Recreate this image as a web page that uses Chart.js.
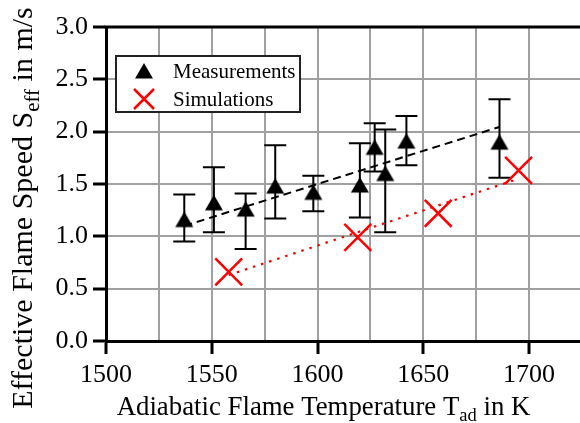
<!DOCTYPE html>
<html>
<head>
<meta charset="utf-8">
<script src="https://cdn.jsdelivr.net/npm/chart.js@4.4.0/dist/chart.umd.min.js"></script>
<style>
  html, body { margin: 0; padding: 0; background: #fff; overflow: hidden; }
  #wrap { width: 580px; height: 423px; overflow: hidden; }
  canvas { display: block; }
</style>
</head>
<body>
<div id="wrap"><canvas id="c" width="584" height="423"></canvas></div>
<script>
// measurements (with error bar ends)
const measT  = [1537, 1551, 1566, 1580, 1598, 1620, 1627, 1632, 1642, 1686];
const measS  = [1.16, 1.32, 1.26, 1.48, 1.42, 1.49, 1.85, 1.60, 1.91, 1.90];
const measHi = [1.40, 1.66, 1.41, 1.87, 1.58, 1.89, 2.08, 2.02, 2.15, 2.31];
const measLo = [0.95, 1.04, 0.88, 1.17, 1.24, 1.18, 1.62, 1.04, 1.68, 1.56];

// simulations
const simT = [1558, 1619, 1657, 1695];
const simS = [0.66, 0.99, 1.22, 1.63];

// fitted lines (end points)
const fitMeasT = [1537, 1686];
const fitMeasS = [1.10, 2.045];
const fitSimT  = [1558, 1695];
const fitSimS  = [0.63, 1.55];

const xTicks = [1500, 1550, 1600, 1650, 1700];
const yTicks = [0.0, 0.5, 1.0, 1.5, 2.0, 2.5, 3.0];

const serif = "'Liberation Serif', 'Times New Roman', serif";
const gridGray = '#a0a0a0';

const pts = (xs, ys) => xs.map((x, i) => ({ x: x, y: ys[i] }));

// triangle marker centred on its bounding box
const tri = document.createElement('canvas');
tri.width = 20; tri.height = 18;
(function () {
  const t = tri.getContext('2d');
  t.fillStyle = '#000';
  t.beginPath();
  t.moveTo(10, 1);
  t.lineTo(19, 16.5);
  t.lineTo(1, 16.5);
  t.closePath();
  t.fill();
})();

function drawCross(ctx, x, y, h, color) {
  ctx.save();
  ctx.strokeStyle = color;
  ctx.lineWidth = 2.5;
  ctx.beginPath();
  ctx.moveTo(x - h, y - h); ctx.lineTo(x + h, y + h);
  ctx.moveTo(x - h, y + h); ctx.lineTo(x + h, y - h);
  ctx.stroke();
  ctx.restore();
}

// text with subscript parts, centred on x
function drawSubText(ctx, parts, x, y, size, subSize) {
  let w = 0;
  parts.forEach(p => {
    ctx.font = (p[1] ? subSize : size) + 'px ' + serif;
    w += ctx.measureText(p[0]).width;
  });
  let cx = x - w / 2;
  ctx.textAlign = 'left';
  ctx.textBaseline = 'alphabetic';
  parts.forEach(p => {
    ctx.font = (p[1] ? subSize : size) + 'px ' + serif;
    ctx.fillText(p[0], cx, y + (p[1] ? size * 0.23 : 0));
    cx += ctx.measureText(p[0]).width;
  });
}

const extras = {
  id: 'extras',
  beforeDatasetsDraw(chart) {
    const ctx = chart.ctx, xs = chart.scales.x, ys = chart.scales.y;
    ctx.save();
    ctx.strokeStyle = '#000';
    ctx.lineWidth = 2;
    measT.forEach((t, i) => {
      const px = xs.getPixelForValue(t);
      const top = ys.getPixelForValue(measHi[i]);
      const bot = ys.getPixelForValue(measLo[i]);
      ctx.beginPath();
      ctx.moveTo(px, top); ctx.lineTo(px, bot);
      ctx.moveTo(px - 11, top); ctx.lineTo(px + 11, top);
      ctx.moveTo(px - 11, bot); ctx.lineTo(px + 11, bot);
      ctx.stroke();
    });
    ctx.restore();
  },
  afterDraw(chart) {
    const ctx = chart.ctx, a = chart.chartArea;
    ctx.save();
    // top frame line
    ctx.strokeStyle = '#000';
    ctx.lineWidth = 3;
    ctx.beginPath();
    ctx.moveTo(a.left - 1.5, a.top); ctx.lineTo(a.right + 2, a.top);
    ctx.stroke();

    // legend
    ctx.fillStyle = '#fff';
    ctx.fillRect(116, 56, 184, 56);
    ctx.lineWidth = 2;
    ctx.strokeStyle = '#222';
    ctx.strokeRect(116, 56, 184, 56);
    ctx.drawImage(tri, 134, 62);
    drawCross(ctx, 144, 99, 10, '#ff0000');
    ctx.fillStyle = '#000';
    ctx.font = '21px ' + serif;
    ctx.textAlign = 'left';
    ctx.textBaseline = 'alphabetic';
    ctx.fillText('Measurements', 173, 78);
    ctx.fillText('Simulations', 173, 106);

    // axis titles
    drawSubText(ctx, [['Adiabatic Flame Temperature T', 0], ['ad', 1], [' in K', 0]], 323.5, 415, 26.8, 18.5);
    ctx.translate(32, 208);
    ctx.rotate(-Math.PI / 2);
    drawSubText(ctx, [['Effective Flame Speed S', 0], ['eff', 1], [' in m/s', 0]], 0, 0, 30, 21);
    ctx.restore();
  }
};

const tickCol = (vals) => c => (c.tick && vals.some(v => Math.abs(v - c.tick.value) < 1e-6)) ? '#000' : 'rgba(0,0,0,0)';

new Chart(document.getElementById('c'), {
  type: 'scatter',
  data: {
    datasets: [
      {
        label: 'Measurements',
        data: pts(measT, measS),
        pointStyle: tri,
        order: 0
      },
      {
        label: 'Simulations',
        data: pts(simT, simS),
        pointStyle: 'crossRot',
        pointRadius: 19,
        pointBorderWidth: 2.5,
        borderColor: '#ff0000',
        backgroundColor: '#ff0000',
        order: 1
      },
      {
        label: 'fit measurements',
        data: pts(fitMeasT, fitMeasS),
        showLine: true,
        pointRadius: 0,
        borderColor: '#000',
        borderWidth: 2,
        borderDash: [8, 5],
        order: 2
      },
      {
        label: 'fit simulations',
        data: pts(fitSimT, fitSimS),
        showLine: true,
        pointRadius: 0,
        borderColor: '#ff0000',
        borderWidth: 2.2,
        borderDash: [2.5, 6],
        order: 3
      }
    ]
  },
  options: {
    responsive: false,
    animation: false,
    events: [],
    layout: { autoPadding: false, padding: { top: 27, right: 2, left: 0, bottom: 0 } },
    plugins: { legend: { display: false }, tooltip: { enabled: false } },
    scales: {
      x: {
        type: 'linear',
        min: 1500, max: 1725,
        afterFit: s => { s.height = 82; s.paddingLeft = 0; s.paddingRight = 0; },
        ticks: {
          stepSize: 25,
          autoSkip: false,
          maxRotation: 0,
          padding: 6,
          color: '#000',
          font: { family: serif, size: 26 },
          callback: v => xTicks.includes(v) ? String(v) : ''
        },
        grid: {
          color: gridGray,
          lineWidth: 2,
          tickLength: 13,
          tickWidth: 3,
          tickColor: tickCol(xTicks)
        },
        border: { color: '#000', width: 3 }
      },
      y: {
        type: 'linear',
        min: 0, max: 3,
        afterFit: s => { s.width = 106; s.paddingTop = 0; s.paddingBottom = 0; },
        ticks: {
          stepSize: 0.5,
          padding: 5,
          color: '#000',
          font: { family: serif, size: 26 },
          callback: v => yTicks.includes(v) ? v.toFixed(1) : ''
        },
        grid: {
          color: gridGray,
          lineWidth: 2,
          tickLength: 13,
          tickWidth: 3,
          tickColor: tickCol(yTicks)
        },
        border: { color: '#000', width: 3 }
      }
    }
  },
  plugins: [extras]
});
</script>
</body>
</html>
